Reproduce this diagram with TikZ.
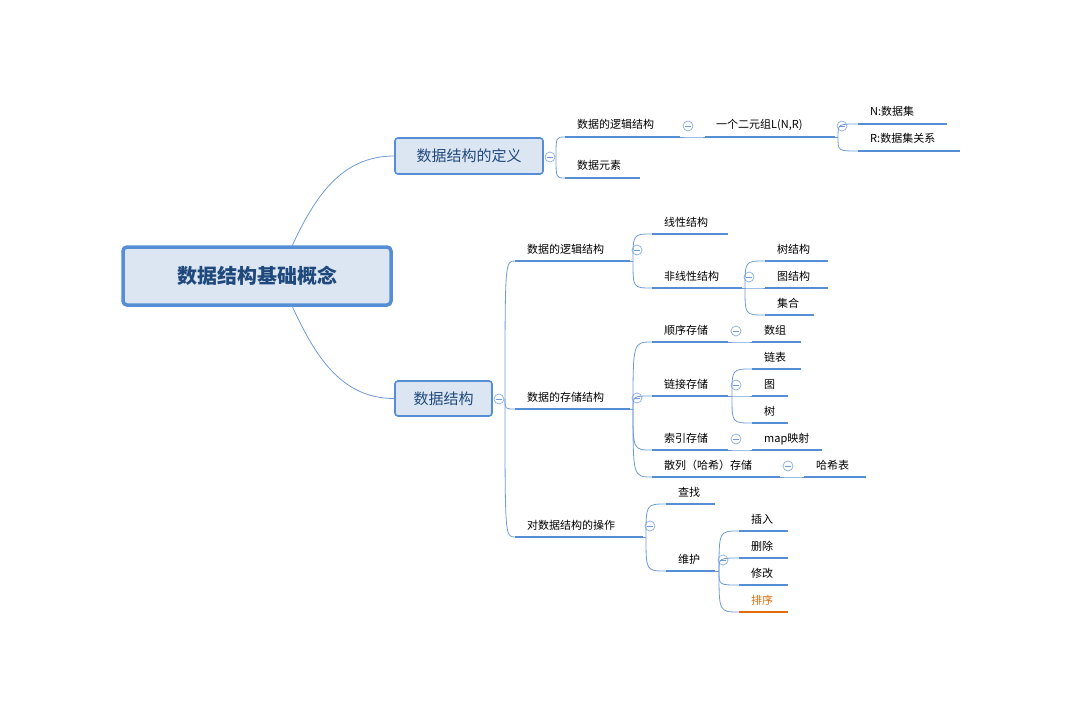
\documentclass[tikz,border=0pt]{standalone}
\usepackage{fontspec}
\setmainfont{Noto Sans CJK SC}
\usetikzlibrary{calc}
\definecolor{barc}{RGB}{85,142,213}
\definecolor{linkc}{RGB}{110,155,215}
\definecolor{boxf}{RGB}{220,230,242}
\definecolor{tblue}{RGB}{31,73,125}
\definecolor{orng}{RGB}{228,108,10}
\tikzset{
  bar/.style={draw=barc,line width=2.4pt},
  link/.style={draw=linkc,line width=0.8pt},
  lbl/.style={font=\fontsize{11}{13}\selectfont,inner sep=0pt,anchor=base west},
  tbox/.style={draw=barc,fill=boxf,rounded corners=3pt,line width=1.6pt,text=tblue,font=\fontsize{15}{18}\selectfont},
  coll/.style={circle,draw=linkc!80,fill=white,line width=0.7pt,minimum size=10pt,inner sep=0pt,
     path picture={\draw[linkc,line width=0.7pt] ([xshift=-2.6pt]path picture bounding box.center) -- ([xshift=2.6pt]path picture bounding box.center);}}
}
\newcommand\leafn[6][black]{%
  \coordinate (#2-s) at (#3,#5); \coordinate (#2-e) at (#4,#5);
  \draw[bar] (#2-s) -- (#2-e);
  \node[lbl,text=#1] (#2) at (#3+12,#5-8) {#6};}
\newcommand\fork[3]{% name parent x
  \coordinate (#1-f) at (#3,0 |- #2-e);
  \draw[link] (#2-e) -- (#1-f);
  \node[coll] (#1-c) at ($(#1-f)+(4,-11)$) {};}
\newcommand\cn[2]{\draw[link] (#1-f) .. controls (#1-f |- #2-s) .. (#2-s);}
\begin{document}
\begin{tikzpicture}[x=1pt,y=-1pt]
\useasboundingbox (0,0) rectangle (1083,714);
% root
\node[draw=barc,fill=boxf,rounded corners=4pt,line width=3.5pt,minimum width=268pt,minimum height=58pt,
  text=tblue,font=\fontsize{20}{24}\selectfont\bfseries] (root) at (257,276) {数据结构基础概念};
\node[tbox,minimum width=148pt,minimum height=36pt] (def) at (469,156) {数据结构的定义};
\node[tbox,minimum width=97pt,minimum height=35pt] (ds) at (443.5,398.5) {数据结构};
\draw[link] (292,246) coordinate (r1) to[out=65,in=180] (def.west);
\draw[link] (292,306) coordinate (r2) to[out=-65,in=180] (ds.west);
\node[coll] (defc) at (550,157) {};
\node[coll] (dsc) at (499,399) {};
\coordinate (d-f) at (556,157);
\coordinate (s-f) at (505,399);
% definition branch
\leafn{dl}{565}{680}{137}{数据的逻辑结构}
\leafn{de}{565}{640}{178}{数据元素}
\cn{d}{dl}\cn{d}{de}
\fork{dlf}{dl}{684}
\leafn{tu}{705}{835}{137}{}
\node[lbl] (tut) at (716,129) {一个二元组L(N,R)};
\cn{dlf}{tu}
\fork{tuf}{tu}{838}
\leafn{nn}{858}{947}{124}{N:数据集}
\leafn{rr}{858}{960}{151}{R:数据集关系}
\cn{tuf}{nn}\cn{tuf}{rr}
% structure branch
\leafn{sl}{515}{630}{261}{数据的逻辑结构}
\leafn{ss}{515}{630}{409}{数据的存储结构}
\leafn{so}{515}{643}{537}{对数据结构的操作}
\cn{s}{sl}\cn{s}{ss}\cn{s}{so}
\fork{slf}{sl}{633}
\leafn{lin}{652}{728}{234}{线性结构}
\leafn{nl}{652}{742}{288}{非线性结构}
\cn{slf}{lin}\cn{slf}{nl}
\fork{nlf}{nl}{745}
\leafn{tree}{765}{828}{261}{树结构}
\leafn{graph}{765}{828}{288}{图结构}
\leafn{set}{765}{814}{315}{集合}
\cn{nlf}{tree}\cn{nlf}{graph}\cn{nlf}{set}
\fork{ssf}{ss}{633}
\leafn{seq}{652}{728}{342}{顺序存储}
\leafn{lnk}{652}{728}{396}{链接存储}
\leafn{idx}{652}{728}{450}{索引存储}
\leafn{hs}{652}{780}{477}{散列（哈希）存储}
\cn{ssf}{seq}\cn{ssf}{lnk}\cn{ssf}{idx}\cn{ssf}{hs}
\fork{seqf}{seq}{732}
\leafn{arr}{752}{801}{342}{数组}
\cn{seqf}{arr}
\fork{lnkf}{lnk}{732}
\leafn{ll}{752}{801}{369}{链表}
\leafn{gr}{752}{788}{396}{图}
\leafn{tr}{752}{788}{423}{树}
\cn{lnkf}{ll}\cn{lnkf}{gr}\cn{lnkf}{tr}
\fork{idxf}{idx}{732}
\leafn{map}{752}{822}{450}{map映射}
\cn{idxf}{map}
\fork{hsf}{hs}{784}
\leafn{ht}{804}{866}{477}{哈希表}
\cn{hsf}{ht}
\fork{sof}{so}{646}
\leafn{find}{666}{715}{504}{查找}
\leafn{mt}{666}{715}{571}{维护}
\cn{sof}{find}\cn{sof}{mt}
\fork{mtf}{mt}{719}
\leafn{ins}{739}{788}{531}{插入}
\leafn{del}{739}{788}{558}{删除}
\leafn{mod}{739}{788}{585}{修改}
\leafn[orng]{srt}{739}{788}{612}{排序}
\draw[draw=orng,line width=2.4pt] (srt-s) -- (srt-e);
\cn{mtf}{ins}\cn{mtf}{del}\cn{mtf}{mod}\cn{mtf}{srt}
\end{tikzpicture}
\end{document}
